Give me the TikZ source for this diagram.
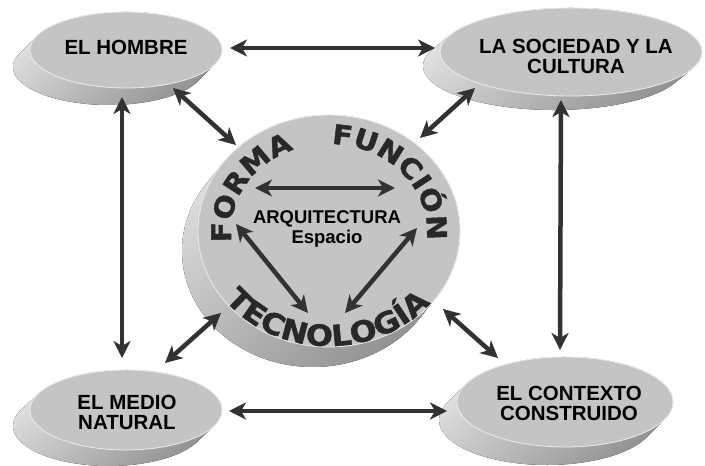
\documentclass[tikz,border=0pt]{standalone}
\usepackage{fontspec}
\setmainfont{Liberation Sans}
\newfontfamily\arcfont{DejaVu Sans Bold}[FakeBold=1.6,FakeStretch=1.1]
\usetikzlibrary{arrows.meta,decorations.text}
\definecolor{facegray}{RGB}{196,196,196}
\definecolor{arrgray}{RGB}{50,50,50}
\definecolor{arcgray}{RGB}{40,40,40}
\newcommand\arcstyle{\arcfont\fontsize{27}{27}\selectfont}
\newcommand\arcstyleb{\arcfont\fontsize{29}{29}\selectfont}
% cx cy a b sx sy
\newcommand\DrawDisk[6]{%
  \pgfmathsetmacro\dtA{atan2(-(#4)*(#5),(#3)*(#6))}%
  \pgfmathsetmacro\dtB{\dtA+180}%
  \pgfmathsetmacro\dtC{\dtA+360}%
  \pgfmathsetmacro\dxo{#1+#5+(#3)*cos(\dtA)}%
  \pgfmathsetmacro\dyo{#2+#6+(#4)*sin(\dtA)}%
  \fill[sidefill] (\dxo,\dyo) arc[start angle=\dtA, end angle=\dtB, x radius=#3, y radius=#4]
     -- ++(-#5,-#6) arc[start angle=\dtB, end angle=\dtC, x radius=#3, y radius=#4] -- cycle;
  \fill[facefill] (#1,#2) ellipse[x radius=#3, y radius=#4];
}
\begin{document}
\begin{tikzpicture}[x=1pt,y=1pt,
  sidefill/.style={top color=black!10, bottom color=black!45, shading angle=40},
  facefill/.style={fill=facegray, draw=black!8, line width=0.8pt},
  lbl/.style={font=\bfseries\fontsize{20.5}{20}\selectfont, text=black, inner sep=0pt, align=center},
  inlbl/.style={font=\bfseries\fontsize{18.5}{20}\selectfont, text=black, inner sep=0pt, align=center},
  arr/.style={draw=arrgray, line width=4.5pt, {Stealth[length=17pt,width=17pt,inset=5pt]}-{Stealth[length=17pt,width=17pt,inset=5pt]}, shorten <=0pt, shorten >=0pt}]
\useasboundingbox (0,0) rectangle (705,466);
\fill[white] (0,0) rectangle (705,466);

% disks
\DrawDisk{126}{416}{96}{38}{-17}{-17}
\DrawDisk{571}{414}{131}{44}{-17}{-14}
\DrawDisk{126}{56}{96}{40}{-17}{-16}
\DrawDisk{565}{64}{108}{45}{-18}{-18}
\DrawDisk{329}{235}{131}{116}{-16}{-20}

% labels
\node[lbl] (hombre) at (126,418.5) {EL HOMBRE};
\node[lbl] (sociedad) at (576,409.5) {LA SOCIEDAD Y LA\\CULTURA};
\node[lbl] (medio) at (127,53.5) {EL MEDIO\\NATURAL};
\node[lbl] (contexto) at (569,62.5) {EL CONTEXTO\\CONSTRUIDO};
\node[inlbl] (arq) at (327,237) {ARQUITECTURA\\Espacio};

% arc texts
\path[decorate, decoration={text along path, text={|\arcstyle|FORMA}, text align=center, text color=arcgray}]
  (329,235) ++(205:98 and 87) arc[start angle=205, end angle=95, x radius=98, y radius=87];
\path[decorate, decoration={text along path, text={|\arcstyle|FUNCIÓN}, text align=center, text color=arcgray}]
  (329,235) ++(92:98 and 87) arc[start angle=92, end angle=-10, x radius=98, y radius=87];
\path[decorate, decoration={text along path, text={|\arcstyleb|TECNOLOGÍA}, text align=center, text color=arcgray}]
  (329,235) ++(198:130 and 115) arc[start angle=198, end angle=340, x radius=130, y radius=115];

% connector end points
\coordinate (hombre-e) at (230,418);
\coordinate (hombre-s) at (122,369);
\coordinate (hombre-se) at (173,378);
\coordinate (sociedad-w) at (435,418);
\coordinate (sociedad-s) at (561,366);
\coordinate (sociedad-sw) at (475,378);
\coordinate (medio-n) at (122,108);
\coordinate (medio-e) at (229,55);
\coordinate (medio-ne) at (165,103);
\coordinate (contexto-n) at (560,116);
\coordinate (contexto-w) at (447,55);
\coordinate (contexto-nw) at (498,108);
\coordinate (arq-nw) at (236,321);
\coordinate (arq-ne) at (420,328);
\coordinate (arq-sw) at (221,153);
\coordinate (arq-se) at (443,157);
\coordinate (forma-r) at (255,278);
\coordinate (forma-b) at (236,242);
\coordinate (funcion-l) at (395,278);
\coordinate (funcion-b) at (417,238);
\coordinate (tec-l) at (308,153);
\coordinate (tec-r) at (345,153);

% connectors
\draw[arr] (hombre-e) -- (sociedad-w);
\draw[arr] (hombre-s) -- (medio-n);
\draw[arr] (sociedad-s) -- (contexto-n);
\draw[arr] (medio-e) -- (contexto-w);
\draw[arr] (hombre-se) -- (arq-nw);
\draw[arr] (sociedad-sw) -- (arq-ne);
\draw[arr] (medio-ne) -- (arq-sw);
\draw[arr] (contexto-nw) -- (arq-se);
\draw[arr] (forma-r) -- (funcion-l);
\draw[arr] (forma-b) -- (tec-l);
\draw[arr] (funcion-b) -- (tec-r);
\end{tikzpicture}
\end{document}
